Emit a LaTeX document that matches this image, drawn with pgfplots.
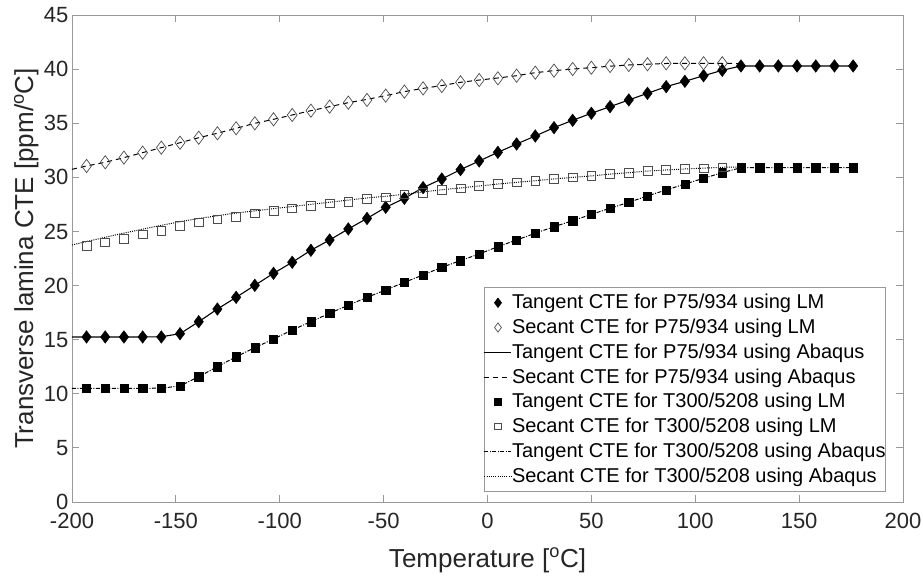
\documentclass[border=0pt]{standalone}
\usepackage{fontspec}
\setmainfont{Liberation Sans}
\usepackage{pgfplots}
\usepackage{pgfplotstable}
\pgfplotsset{compat=1.18}
\pgfplotsset{
  lineleg/.style={legend image code/.code={\draw[##1] (0pt,0pt) -- (27pt,0pt);}},
  markleg/.style={legend image code/.code={\draw[##1, mark size=#1] plot coordinates {(13.5pt,0pt)};}},
}

% Tangent CTE, P75/934, LM
\pgfplotstableread{
T y
-193 15.25
-184 15.25
-175 15.25
-166 15.25
-157 15.25
-148 15.55
-139 16.66
-130 17.83
-121 18.91
-112 20.02
-103 21.13
-94 22.15
-85 23.26
-76 24.21
-67 25.23
-58 26.20
-49 27.23
-40 28.06
-31 29.05
-22 29.85
-13 30.71
-4 31.51
5 32.31
14 33.08
23 33.82
32 34.59
41 35.27
50 35.92
59 36.53
68 37.15
77 37.76
86 38.38
95 38.87
104 39.39
113 39.89
122 40.29
131 40.29
140 40.29
149 40.29
158 40.29
167 40.29
176 40.29
}\tanP

% Tangent CTE, P75/934, Abaqus
\pgfplotstableread{
T y
-200 15.25
-193 15.25
-166 15.25
-157 15.27
-148 15.55
-139 16.66
-130 17.83
-121 18.91
-112 20.02
-103 21.13
-94 22.15
-85 23.26
-76 24.21
-67 25.23
-58 26.20
-49 27.23
-40 28.06
-31 29.05
-22 29.85
-13 30.71
-4 31.51
5 32.31
14 33.08
23 33.82
32 34.59
41 35.27
50 35.92
59 36.53
68 37.15
77 37.76
86 38.38
95 38.87
104 39.39
113 39.89
122 40.29
176 40.29
}\tanPA

% Secant CTE, P75/934, LM
\pgfplotstableread{
T y
-193 31.05
-184 31.39
-175 31.82
-166 32.28
-157 32.74
-148 33.20
-139 33.66
-130 34.07
-121 34.53
-112 34.99
-103 35.36
-94 35.76
-85 36.16
-76 36.53
-67 36.90
-58 37.15
-49 37.55
-40 37.92
-31 38.22
-22 38.44
-13 38.78
-4 38.99
5 39.15
14 39.39
23 39.67
32 39.86
41 40.01
50 40.13
59 40.29
68 40.38
77 40.45
86 40.54
95 40.54
104 40.54
113 40.54
}\secP

% Secant CTE, P75/934, Abaqus
\pgfplotstableread{
T y
-200 30.74
-193 31.05
-184 31.39
-175 31.82
-166 32.28
-157 32.74
-148 33.20
-139 33.66
-130 34.07
-121 34.53
-112 34.99
-103 35.36
-94 35.76
-85 36.16
-76 36.53
-67 36.90
-58 37.20
-49 37.55
-40 37.92
-31 38.22
-22 38.48
-13 38.78
-4 38.99
5 39.18
14 39.39
23 39.67
32 39.86
41 40.01
50 40.13
59 40.27
68 40.38
77 40.45
86 40.52
95 40.54
104 40.54
113 40.54
122 40.50
}\secPA

% Tangent CTE, T300/5208, LM
\pgfplotstableread{
T y
-193 10.50
-184 10.50
-175 10.50
-166 10.50
-157 10.50
-148 10.72
-139 11.58
-130 12.50
-121 13.43
-112 14.26
-103 15.06
-94 15.89
-85 16.66
-76 17.44
-67 18.18
-58 18.91
-49 19.59
-40 20.30
-31 20.98
-22 21.69
-13 22.30
-4 22.92
5 23.59
14 24.21
23 24.83
32 25.44
41 25.99
50 26.58
59 27.14
68 27.69
77 28.28
86 28.83
95 29.38
104 29.91
113 30.43
122 30.89
131 30.89
140 30.89
149 30.89
158 30.89
167 30.89
176 30.89
}\tanT

% Tangent CTE, T300/5208, Abaqus
\pgfplotstableread{
T y
-200 10.50
-193 10.50
-166 10.50
-157 10.52
-148 10.72
-139 11.58
-130 12.50
-121 13.43
-112 14.26
-103 15.06
-94 15.89
-85 16.66
-76 17.44
-67 18.18
-58 18.91
-49 19.59
-40 20.30
-31 20.98
-22 21.69
-13 22.30
-4 22.92
5 23.59
14 24.21
23 24.83
32 25.44
41 25.99
50 26.58
59 27.14
68 27.69
77 28.28
86 28.83
95 29.38
104 29.91
113 30.43
122 30.89
176 30.89
}\tanTA

% Secant CTE, T300/5208, LM
\pgfplotstableread{
T y
-193 23.69
-184 23.99
-175 24.33
-166 24.73
-157 25.07
-148 25.50
-139 25.84
-130 26.12
-121 26.37
-112 26.68
-103 26.89
-94 27.14
-85 27.35
-76 27.60
-67 27.75
-58 28.03
-49 28.15
-40 28.43
-31 28.58
-22 28.83
-13 28.99
-4 29.20
5 29.38
14 29.54
23 29.69
32 29.85
41 30.00
50 30.12
59 30.31
68 30.43
77 30.59
86 30.68
95 30.77
104 30.83
113 30.93
}\secT

% Secant CTE, T300/5208, Abaqus
\pgfplotstableread{
T y
-200 23.75
-190 24.20
-175 24.85
-160 25.45
-148 25.90
-139 26.20
-130 26.45
-121 26.70
-112 26.90
-103 27.10
-94 27.30
-85 27.50
-76 27.70
-67 27.90
-58 28.10
-49 28.25
-40 28.45
-31 28.65
-22 28.85
-13 29.02
-4 29.20
5 29.38
14 29.54
23 29.69
32 29.85
41 30.00
50 30.13
59 30.30
68 30.43
77 30.58
86 30.68
95 30.77
104 30.85
113 30.93
122 30.95
}\secTA

\begin{document}
\begin{tikzpicture}
\useasboundingbox (-72pt,-75pt) rectangle (851pt,502pt);
\begin{axis}[
  at={(0pt,0pt)}, anchor=south west,
  scale only axis, width=831pt, height=487pt,
  xmin=-200, xmax=200, ymin=0, ymax=45,
  xtick distance=50, ytick distance=5,
  tick align=inside, major tick length=7pt,
  axis line style={black!40, line width=0.8pt},
  tick style={black!40, line width=0.8pt},
  /pgf/number format/assume math mode=true,
  ticklabel style={font=\fontsize{22}{26}\selectfont, text=black!85},
  xticklabel style={yshift=-7.4pt},
  xlabel={Temperature [\textsuperscript{o}C]},
  ylabel={Transverse lamina CTE [ppm/\textsuperscript{o}C]},
  label style={font=\fontsize{26}{30}\selectfont, text=black!85},
  xlabel style={at={(axis description cs:0.5,-0.1335)}, anchor=base},
  ylabel style={at={(axis description cs:-0.0469,0.5)}, anchor=base},
  legend cell align=left,
  legend style={at={(1,0)}, anchor=south east, xshift=-17pt, yshift=10pt,
    draw=black!40, line width=0.8pt, fill=white,
    inner xsep=0pt, inner ysep=5pt, column sep=0pt, row sep=3.76pt,
    font=\fontsize{20}{24}\selectfont, text=black,
    nodes={inner xsep=0pt, inner ysep=0pt, text height=16.5pt, text depth=4.5pt}},
  lineleg,
]
\addplot[only marks, mark=diamond*, mark size=6.3pt, black, fill=black, markleg=4.6pt]
  table[x=T,y=y] {\tanP};
\addlegendentry{Tangent CTE for P75/934 using LM}
\addplot[only marks, mark=diamond, mark size=6.6pt, draw=black!70, line width=0.7pt, markleg=4.6pt]
  table[x=T,y=y] {\secP};
\addlegendentry{Secant CTE for P75/934 using LM}
\addplot[black, line width=1.1pt, mark=none] table[x=T,y=y] {\tanPA};
\addlegendentry{Tangent CTE for P75/934 using Abaqus}
\addplot[black, line width=1pt, mark=none, dash pattern=on 5pt off 4pt] table[x=T,y=y] {\secPA};
\addlegendentry{Secant CTE for P75/934 using Abaqus}
\addplot[only marks, mark=square*, mark size=4.1pt, black, fill=black, markleg=3.2pt]
  table[x=T,y=y] {\tanT};
\addlegendentry{Tangent CTE for T300/5208 using LM}
\addplot[only marks, mark=square, mark size=4.4pt, draw=black!70, line width=0.7pt, markleg=3.2pt]
  table[x=T,y=y] {\secT};
\addlegendentry{Secant CTE for T300/5208 using LM}
\addplot[black, line width=1pt, mark=none, dash pattern=on 4pt off 1.5pt on 1pt off 1.5pt] table[x=T,y=y] {\tanTA};
\addlegendentry{Tangent CTE for T300/5208 using Abaqus}
\addplot[black, line width=1pt, mark=none, dash pattern=on 1pt off 1.2pt] table[x=T,y=y] {\secTA};
\addlegendentry{Secant CTE for T300/5208 using Abaqus}
\end{axis}
\end{tikzpicture}
\end{document}
